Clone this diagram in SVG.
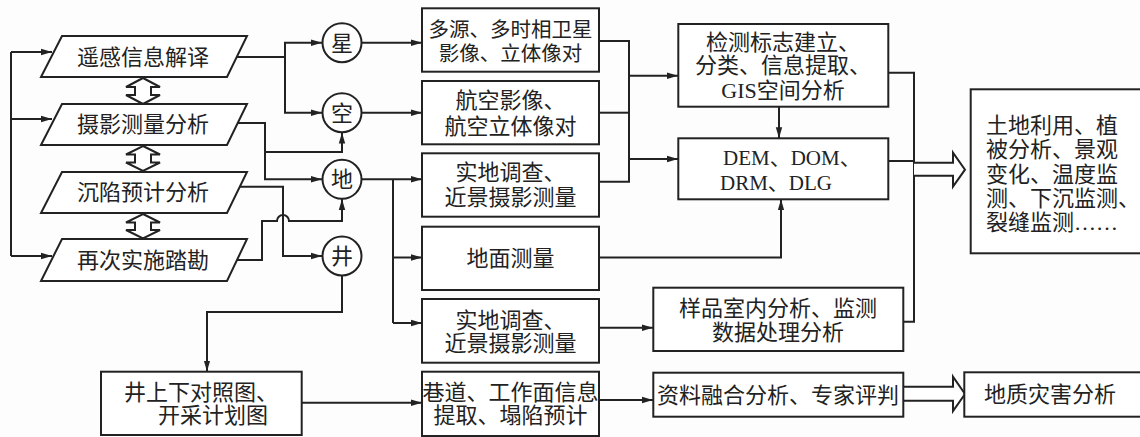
<svg xmlns="http://www.w3.org/2000/svg" width="1140" height="437" viewBox="0 0 1140 437">
<defs>
<marker id="ah" markerUnits="userSpaceOnUse" markerWidth="12" markerHeight="8" refX="11" refY="4" orient="auto">
<path d="M0,0.8 L11,4 L0,7.2 Z" fill="#222"/>
</marker>
<style>
.n{fill:#fff;stroke:#222;stroke-width:2}
.c{fill:none;stroke:#222;stroke-width:2}
.h{fill:#fff;stroke:#222;stroke-width:2;stroke-linejoin:miter}
text{font-family:"Liberation Serif","Noto Sans CJK SC",serif;font-size:22px;fill:#222;text-anchor:middle}
.l{text-anchor:start}
</style>
</defs>
<rect width="1140" height="437" fill="#fdfdfd"/>

<g id="connectors">
<path class="c" d="M11,52 V256"/>
<path class="c" d="M11,52 H52" marker-end="url(#ah)"/>
<path class="c" d="M11,119 H52" marker-end="url(#ah)"/>
<path class="c" d="M11,256 H52" marker-end="url(#ah)"/>
<path class="c" d="M237,57 H285 V42.7 H322" marker-end="url(#ah)"/>
<path class="c" d="M285,57 V112.7 H322" marker-end="url(#ah)"/>
<path class="c" d="M238,123 H265 V179.3 H322" marker-end="url(#ah)"/>
<path class="c" d="M265,152 H342 V132.5" marker-end="url(#ah)"/>
<path class="c" d="M240,186.7 H283 V256 H322" marker-end="url(#ah)"/>
<path class="c" d="M237,260 H262 V221 H277 A6,6 0 0 1 289,221 H342 V199" marker-end="url(#ah)"/>
<path class="c" d="M361.5,42.7 H422" marker-end="url(#ah)"/>
<path class="c" d="M361.5,112.7 H422" marker-end="url(#ah)"/>
<path class="c" d="M361.5,179.3 H422" marker-end="url(#ah)"/>
<path class="c" d="M393,179.3 V323"/>
<path class="c" d="M393,257.5 H422" marker-end="url(#ah)"/>
<path class="c" d="M393,323 H422" marker-end="url(#ah)"/>
<path class="c" d="M342,275.5 V312 H207 V371.5" marker-end="url(#ah)"/>
<path class="c" d="M302,402.7 H422" marker-end="url(#ah)"/>
<path class="c" d="M599,41 H629 V181.7 H599"/>
<path class="c" d="M599,112.7 H629"/>
<path class="c" d="M629,75.7 H678" marker-end="url(#ah)"/>
<path class="c" d="M629,159 H678" marker-end="url(#ah)"/>
<path class="c" d="M779,106.7 V138.3" marker-end="url(#ah)"/>
<path class="c" d="M599,257.5 H781 V199.3" marker-end="url(#ah)"/>
<path class="c" d="M599,327.7 H653" marker-end="url(#ah)"/>
<path class="c" d="M599,400 H653" marker-end="url(#ah)"/>
<path class="c" d="M888,72.7 H914 V321.7 H903"/>
<path class="c" d="M888,161 H914"/>
<path class="h" d="M914,162.7 H953 V152.7 L965,169.7 L953,186.7 V175.7 H914"/>
<path class="h" d="M903,386.7 H953 V376.7 L965,394 L953,411 V400.7 H903"/>
<path class="h" d="M143,78 L160,87 H151 V95 H160 L143,104 L126,95 H135 V87 H126 Z"/>
<path class="h" d="M143,146 L160,154.5 H151 V162.5 H160 L143,171 L126,162.5 H135 V154.5 H126 Z"/>
<path class="h" d="M143,214 L160,222.5 H151 V230 H160 L143,238.5 L126,230 H135 V222.5 H126 Z"/>
</g>

<g id="p1"><path class="n" d="M62,36 H247 L227,77 H41 Z"/><text x="143" y="65">遥感信息解译</text></g>
<g id="p2"><path class="n" d="M62,104 H247 L227,145 H41 Z"/><text x="143" y="132">摄影测量分析</text></g>
<g id="p3"><path class="n" d="M62,172 H247 L227,213 H41 Z"/><text x="143" y="200">沉陷预计分析</text></g>
<g id="p4"><path class="n" d="M62,239 H247 L227,281 H41 Z"/><text x="143" y="268">再次实施踏勘</text></g>

<g id="xing"><circle class="n" cx="342" cy="42.7" r="19.5"/><text x="342" y="50.5">星</text></g>
<g id="kong"><circle class="n" cx="342" cy="112.7" r="19.5"/><text x="342" y="120.5">空</text></g>
<g id="di"><circle class="n" cx="342" cy="179.3" r="19.5"/><text x="342" y="187">地</text></g>
<g id="jing"><circle class="n" cx="342" cy="256" r="19.5"/><text x="342" y="264">井</text></g>

<g id="b1"><rect class="n" x="422" y="8.3" width="177" height="63.4"/><text x="510.5" y="37" style="font-size:20.5px">多源、多时相卫星</text><text x="510.5" y="61" style="font-size:20.5px">影像、立体像对</text></g>
<g id="b2"><rect class="n" x="422" y="81" width="177" height="63.3"/><text x="510.5" y="108">航空影像、</text><text x="510.5" y="134">航空立体像对</text></g>
<g id="b3"><rect class="n" x="422" y="153.3" width="177" height="63.4"/><text x="510.5" y="179.5">实地调查、</text><text x="510.5" y="204.5">近景摄影测量</text></g>
<g id="b4"><rect class="n" x="422" y="226.7" width="177" height="63.3"/><text x="510.5" y="266">地面测量</text></g>
<g id="b5"><rect class="n" x="422" y="299" width="177" height="63.7"/><text x="510.5" y="327.5">实地调查、</text><text x="510.5" y="351">近景摄影测量</text></g>
<g id="b6"><rect class="n" x="422" y="371.7" width="177" height="64.3"/><text x="510.5" y="399.5">巷道、工作面信息</text><text x="510.5" y="423">提取、塌陷预计</text></g>
<g id="b7"><rect class="n" x="101" y="371.7" width="200.7" height="63.3"/><text x="201" y="399.5">井上下对照图、</text><text x="213" y="423">开采计划图</text></g>

<g id="b8"><rect class="n" x="678.3" y="24" width="210" height="82.7"/><text x="783" y="50">检测标志建立、</text><text x="783" y="73">分类、信息提取、</text><text x="783" y="98">GIS空间分析</text></g>
<g id="b9"><rect class="n" x="678.3" y="138.3" width="210" height="61"/><text class="l" x="723" y="164.5" style="font-size:21px">DEM、DOM、</text><text class="l" x="720" y="189.5" style="font-size:21px">DRM、DLG</text></g>
<g id="b10"><rect class="n" x="653.3" y="287.7" width="250" height="63.3"/><text x="778" y="316">样品室内分析、监测</text><text x="778" y="339.5">数据处理分析</text></g>
<g id="b11"><rect class="n" x="653.3" y="372.7" width="250" height="44"/><text x="778" y="402.5">资料融合分析、专家评判</text></g>
<g id="b12"><rect class="n" x="970.7" y="89.3" width="172" height="164"/><text class="l" x="986" y="133">土地利用、植</text><text class="l" x="986" y="156.5">被分析、景观</text><text class="l" x="986" y="182">变化、温度监</text><text class="l" x="986" y="206">测、下沉监测、</text><text class="l" x="986" y="229.5">裂缝监测……</text></g>
<g id="b13"><rect class="n" x="964.3" y="372.3" width="178" height="44.4"/><text x="1050" y="402">地质灾害分析</text></g>
</svg>
